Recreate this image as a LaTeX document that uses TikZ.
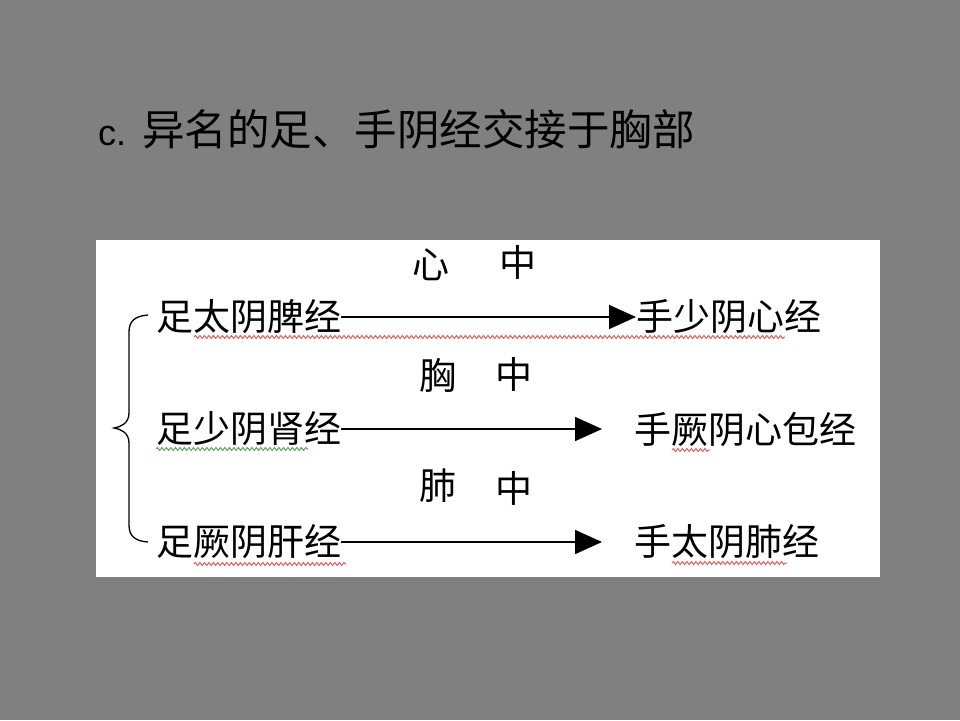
\documentclass[tikz,border=0pt]{standalone}
\usepackage{fontspec}
\setmainfont{Liberation Sans}
\newfontfamily\cjk{Noto Sans CJK SC}
\usetikzlibrary{arrows.meta, decorations.pathmorphing}
\definecolor{slidegray}{RGB}{128,128,128}
\definecolor{spellred}{RGB}{235,95,95}
\definecolor{spellgreen}{RGB}{95,170,95}

\begin{document}
\begin{tikzpicture}[x=1pt,y=-1pt,every node/.style={inner sep=0pt,font=\cjk\fontsize{37}{37}\selectfont},
  link/.style={line width=1.6pt,-{Triangle[length=27pt,width=24pt]}},
  squig/.style={line width=1pt,decorate,decoration={snake,amplitude=1.5pt,segment length=4.5pt}}]
  \path[fill=slidegray,use as bounding box] (0,0) rectangle (960,720);
  \fill[white] (96,240) rectangle (880,577);
  \node[anchor=base west,font=\fontsize{36}{36}\selectfont] (title) at (98,145) {c.\hspace{16pt}{\cjk\fontsize{42.5}{42.5}\selectfont 异名的足、手阴经交接于胸部}};
  \path (431,265) node (xin) {心} (518,262) node (zh1) {中}
  (438,375) node (xiong) {胸} (514,374) node (zh2) {中}
  (438,486) node (fei) {肺} (514,488) node (zh3) {中};
  \path (156,317) node[anchor=west] (l1) {足太阴脾经} (636,317) node[anchor=west] (r1) {手少阴心经}
  (156,429) node[anchor=west] (l2) {足少阴肾经} (634,429) node[anchor=west] (r2) {手厥阴心包经}
  (156,542) node[anchor=west] (l3) {足厥阴肝经} (634,542) node[anchor=west] (r3) {手太阴肺经};
  \draw[link] (l1) -- (r1);
  \draw[link,shorten >=32pt] (l2) -- (r2);
  \draw[link,shorten >=32pt] (l3) -- (r3);
  \draw[line width=1.3pt] (148,315) .. controls (135,316) and (129,321) .. (129,332) -- (129,413)
  .. controls (129,423) and (121,427) .. (114,428) .. controls (121,429) and (129,433) .. (129,443)
  -- (129,525) .. controls (129,536) and (135,541) .. (148,542);
  % spell-check underlines
  \draw[squig,spellred] (194,337) -- (785,337);
  \draw[squig,spellgreen] (156,449) -- (308,449);
  \draw[squig,spellred] (672,450) -- (710,450);
  \draw[squig,spellred] (194,564) -- (346,564);
  \draw[squig,spellred] (672,563) -- (787,563);
\end{tikzpicture}
\end{document}
